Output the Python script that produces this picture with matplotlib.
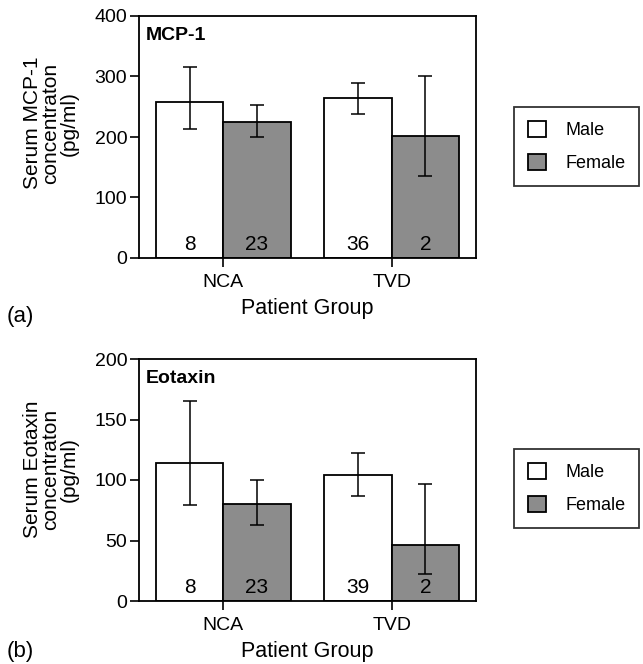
import matplotlib
matplotlib.use("Agg")
import matplotlib.pyplot as plt
import numpy as np
from matplotlib.patches import Patch

plt.rcParams['font.family'] = ['Liberation Sans', 'DejaVu Sans']

groups = ["NCA", "TVD"]
series = ["Male", "Female"]

# Panel (a) MCP-1
mcp_male = [258, 264]
mcp_male_lo = [213, 238]
mcp_male_hi = [315, 290]
mcp_female = [225, 202]
mcp_female_lo = [200, 135]
mcp_female_hi = [253, 301]
mcp_n_male = ["8", "36"]
mcp_n_female = ["23", "2"]

# Panel (b) Eotaxin
eot_male = [114, 104]
eot_male_lo = [79, 87]
eot_male_hi = [165, 122]
eot_female = [80, 46]
eot_female_lo = [63, 22]
eot_female_hi = [100, 97]
eot_n_male = ["8", "39"]
eot_n_female = ["23", "2"]

W, H = 643, 664
fig = plt.figure(figsize=(W/100, H/100), dpi=100)

male_color = "white"
female_color = "#8c8c8c"

def panel(rect, male, mlo, mhi, female, flo, fhi, nm, nf, ymax, ystep, title, ylab, ylab_y, letter, letter_y):
    ax = fig.add_axes(rect)
    x = np.arange(len(groups))
    w = 0.4
    m = np.array(male); f = np.array(female)
    merr = [m - np.array(mlo), np.array(mhi) - m]
    ferr = [f - np.array(flo), np.array(fhi) - f]
    ax.bar(x - w/2, m, w, color=male_color, edgecolor="black", linewidth=1.3, zorder=2)
    ax.bar(x + w/2, f, w, color=female_color, edgecolor="black", linewidth=1.3, zorder=2)
    ax.errorbar(x - w/2, m, yerr=merr, fmt="none", ecolor="black", elinewidth=1.1, capsize=5, capthick=1.1, zorder=3)
    ax.errorbar(x + w/2, f, yerr=ferr, fmt="none", ecolor="black", elinewidth=1.1, capsize=5, capthick=1.1, zorder=3)
    for i in range(len(groups)):
        ax.annotate(nm[i], (x[i] - w/2, 0), xytext=(0, 10), textcoords="offset points",
                    ha="center", va="center", fontsize=15, zorder=4)
        ax.annotate(nf[i], (x[i] + w/2, 0), xytext=(0, 10), textcoords="offset points",
                    ha="center", va="center", fontsize=15, zorder=4)
    ax.set_xlim(-0.5, 1.5)
    ax.set_ylim(0, ymax)
    ax.set_yticks(np.arange(0, ymax + 1, ystep))
    ax.set_xticks(x)
    ax.set_xticklabels(groups, fontsize=14)
    ax.tick_params(axis="y", labelsize=14, direction="out", length=6.5, width=1.2, pad=2)
    ax.tick_params(axis="x", direction="out", length=6.5, width=1.2, pad=5)
    for s in ax.spines.values():
        s.set_linewidth(1.3)
    ax.set_xlabel("Patient Group", fontsize=15.5, labelpad=5)
    ax.text(0.02, 0.92, title, transform=ax.transAxes, fontsize=14, fontweight="bold",
            ha="left", va="center")
    ax.set_ylabel(ylab, fontsize=15, linespacing=0.95)
    ax.yaxis.set_label_coords(-0.18, ylab_y)
    fig.text(7/W, 1 - letter_y/H, letter, fontsize=16, ha="left", va="center")
    return ax

axa = panel([139/W, 1 - 258/H, 337/W, 242/H], mcp_male, mcp_male_lo, mcp_male_hi,
            mcp_female, mcp_female_lo, mcp_female_hi, mcp_n_male, mcp_n_female,
            400, 100, "MCP-1", "Serum MCP-1\nconcentraton\n(pg/ml)", 0.557, "(a)", 317)
axb = panel([139/W, 1 - 601/H, 337/W, 242/H], eot_male, eot_male_lo, eot_male_hi,
            eot_female, eot_female_lo, eot_female_hi, eot_n_male, eot_n_female,
            200, 50, "Eotaxin", "Serum Eotaxin\nconcentraton\n(pg/ml)", 0.545, "(b)", 651)

handles = [Patch(facecolor=male_color, edgecolor="black", linewidth=1.3, label=series[0]),
           Patch(facecolor=female_color, edgecolor="black", linewidth=1.3, label=series[1])]
for top in (107, 449):
    leg = fig.legend(handles=handles, loc="upper left", bbox_to_anchor=(514/W, 1 - top/H),
                     bbox_transform=fig.transFigure, frameon=True, fancybox=False,
                     fontsize=13, handlelength=1.0, handleheight=1.0, handletextpad=1.1,
                     labelspacing=0.85, borderpad=0.75, borderaxespad=0)
    leg.get_frame().set_edgecolor("black")
    leg.get_frame().set_linewidth(1.3)

fig.savefig("out.png", dpi=100)
